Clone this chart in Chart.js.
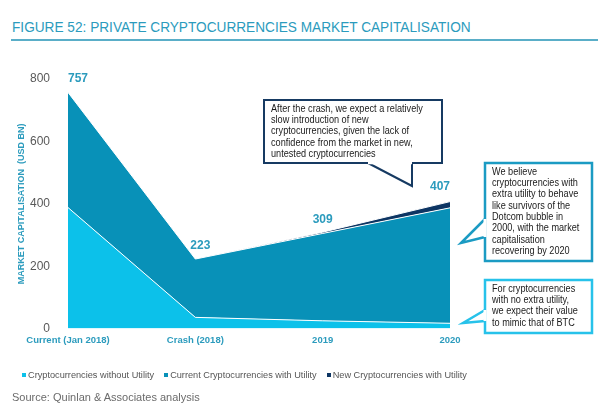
<!DOCTYPE html>
<html>
<head>
<meta charset="utf-8">
<script src="https://cdn.jsdelivr.net/npm/chart.js@4.4.0/dist/chart.umd.min.js"></script>
<style>
  body { margin: 0; background: #fff; font-family: "Liberation Sans", Arial, sans-serif; }
  #wrap { position: relative; width: 607px; height: 416px; overflow: hidden; }
  #title { position: absolute; left: 12px; top: 19px; font-size: 14px; color: #2b9bbd; white-space: nowrap;
           transform: scaleX(0.975); transform-origin: 0 0; }
  #rule { position: absolute; left: 11px; top: 39px; width: 587px; height: 2px; background: #5aaec8; }
  #legend { position: absolute; left: 22px; top: 370px; white-space: nowrap; font-size: 9.2px; color: #555;
            display: flex; align-items: center; }
  #legend span.item { margin-right: 10px; display: flex; align-items: center; }
  #legend i { display: inline-block; width: 4px; height: 4px; margin-right: 2px; }
  #source { position: absolute; left: 12px; top: 391px; font-size: 11px; color: #6b6b6b; white-space: nowrap; }
  canvas { position: absolute; left: 0; top: 0; }
</style>
</head>
<body>
<div id="wrap">
  <div id="title">FIGURE 52: PRIVATE CRYPTOCURRENCIES MARKET CAPITALISATION</div>
  <div id="rule"></div>
  <canvas id="chart" width="607" height="416"></canvas>
  <div id="legend"></div>
  <div id="source">Source: Quinlan &amp; Associates analysis</div>
</div>
<script>
const categories = ["Current (Jan 2018)", "Crash (2018)", "2019", "2020"];
const withoutUtility = [388, 36, 25, 17];
const currentWithUtility = [369, 187, 280, 370];
const newWithUtility = [0, 0, 4, 20];
const totals = [757, 223, 309, 407];
const yTicks = [0, 200, 400, 600, 800];

const teal = "#2b9bbd";
const font = "'Liberation Sans', Arial, sans-serif";

const notes = [
  {
    lines: ["After the crash, we expect a relatively", "slow introduction of new",
      "cryptocurrencies, given the lack of", "confidence from the market in new,",
      "untested cryptocurrencies"],
    box: [264, 100, 442, 163], color: "#163a62", width: 2,
    tail: [[368, 163], [412, 186], [412, 163]]
  },
  {
    lines: ["We believe", "cryptocurrencies with", "extra utility to behave",
      "like survivors of the", "Dotcom bubble in", "2000, with the market",
      "capitalisation", "recovering by 2020"],
    box: [485, 163, 592, 261], color: "#1b9bc3", width: 2.5,
    tail: [[485, 219], [461, 243], [485, 237]]
  },
  {
    lines: ["For cryptocurrencies", "with no extra utility,", "we expect their value",
      "to mimic that of BTC"],
    box: [485, 280, 592, 333], color: "#27c2ea", width: 2.5,
    tail: [[485, 310], [463, 323], [485, 321]]
  }
];

const extras = {
  id: "extras",
  afterDatasetsDraw(chart) {
    const ctx = chart.ctx;
    const x = chart.scales.x, y = chart.scales.y;
    ctx.save();
    // value labels
    ctx.fillStyle = teal;
    ctx.font = "bold 12px " + font;
    ctx.textBaseline = "middle";
    totals.forEach((v, i) => {
      let px = x.getPixelForValue(i), py = y.getPixelForValue(v) - 13;
      ctx.textAlign = "center";
      if (i === 0) { ctx.textAlign = "left"; py -= 1; }
      if (i === 1) px += 5;
      if (i === totals.length - 1) { ctx.textAlign = "right"; py -= 2; }
      ctx.fillText(String(v), px, py);
    });
    // callouts
    notes.forEach(n => {
      const [l, t, r, b] = n.box;
      ctx.beginPath();
      ctx.rect(l, t, r - l, b - t);
      ctx.fillStyle = "#fff";
      ctx.fill();
      ctx.lineWidth = n.width;
      ctx.strokeStyle = n.color;
      ctx.stroke();
      ctx.beginPath();
      ctx.moveTo(n.tail[0][0], n.tail[0][1]);
      ctx.lineTo(n.tail[1][0], n.tail[1][1]);
      ctx.lineTo(n.tail[2][0], n.tail[2][1]);
      ctx.fill();
      ctx.stroke();
      ctx.beginPath();
      ctx.moveTo(n.tail[0][0], n.tail[0][1]);
      ctx.lineTo(n.tail[2][0], n.tail[2][1]);
      ctx.lineWidth = n.width + 0.5;
      ctx.strokeStyle = "#fff";
      ctx.stroke();
      ctx.fillStyle = "#1a1a1a";
      ctx.font = "10.5px " + font;
      ctx.textAlign = "left";
      ctx.textBaseline = "middle";
      n.lines.forEach((s, k) => {
        ctx.save();
        ctx.translate(l + 7, t + 9 + k * 11.3);
        ctx.scale(0.87, 1);
        ctx.fillText(s, 0, 0);
        ctx.restore();
      });
    });
    ctx.restore();
  }
};

const chart = new Chart(document.getElementById("chart"), {
  type: "line",
  data: {
    labels: categories,
    datasets: [
      { label: "Cryptocurrencies without Utility", data: withoutUtility,
        backgroundColor: "#0cc1ea", borderColor: "#ffffff", fill: "origin" },
      { label: "Current Cryptocurrencies with Utility", data: currentWithUtility,
        backgroundColor: "#0891b8", borderColor: "#ffffff", fill: "-1" },
      { label: "New Cryptocurrencies with Utility", data: newWithUtility,
        backgroundColor: "#0d3563", borderColor: "#ffffff", fill: "-1" }
    ]
  },
  options: {
    responsive: false,
    animation: false,
    elements: { line: { tension: 0, borderWidth: 1 }, point: { radius: 0 } },
    layout: { padding: { top: 79, right: 157, bottom: 64, left: 16 } },
    plugins: {
      tooltip: { enabled: false },
      legend: { display: false }
    },
    scales: {
      x: {
        offset: false,
        grid: { display: false, drawTicks: false },
        border: { display: false },
        ticks: { color: teal, padding: 6, maxRotation: 0,
          font: { family: font, size: 9.5, weight: "bold" } }
      },
      y: {
        stacked: true,
        min: 0, max: 800,
        afterFit(s) { s.width = 52; },
        afterBuildTicks(s) { s.ticks = yTicks.map(v => ({ value: v })); },
        grid: { display: false },
        border: { display: false },
        ticks: { color: "#595959", padding: 10,
          font: { family: font, size: 12 } },
        title: { display: true, text: "MARKET CAPITALISATION  (USD BN)", color: teal, padding: 0,
          font: { family: font, size: 9, weight: "bold" } }
      }
    }
  },
  plugins: [extras]
});

// legend built from the chart's datasets
document.getElementById("legend").innerHTML = chart.data.datasets.map(d =>
  '<span class="item"><i style="background:' + d.backgroundColor + '"></i>' + d.label + '</span>'
).join("");
</script>
</body>
</html>
